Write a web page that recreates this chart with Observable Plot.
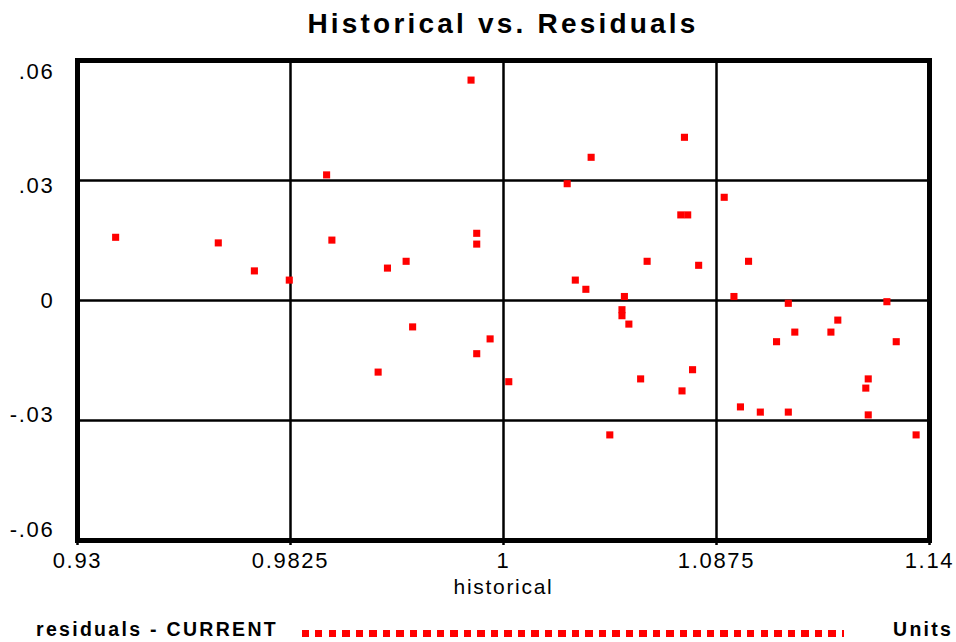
<!DOCTYPE html>
<html>
<head>
<meta charset="utf-8">
<script src="https://cdn.jsdelivr.net/npm/d3@7"></script>
<script src="https://cdn.jsdelivr.net/npm/@observablehq/plot@0.6"></script>
<style>
  html, body { margin: 0; padding: 0; background: #fff; }
  #wrap { position: relative; width: 956px; height: 642px; overflow: hidden; font-family: "Liberation Sans", Arial, sans-serif; }
  #title { position: absolute; left: 77px; width: 852px; top: 10px; text-align: center; font-weight: bold; font-size: 28px; line-height: 28px; letter-spacing: 3.2px; color: #000; }
  #chart { position: absolute; left: 0; top: 0; }
  .leg { position: absolute; top: 620px; font-weight: bold; font-size: 19.5px; line-height: 19.5px; letter-spacing: 2.3px; color: #000; white-space: nowrap; }
  #legline { position: absolute; left: 302px; width: 542px; top: 630px; height: 7px; background: repeating-linear-gradient(to right, #ff0000 0 7px, transparent 7px 13.5px); }
</style>
</head>
<body>
<div id="wrap">
  <div id="chart"></div>
  <div id="title">Historical vs. Residuals</div>
  <div class="leg" style="left:36px">residuals - CURRENT</div>
  <div id="legline"></div>
  <div class="leg" style="left:893px">Units</div>
</div>
<script>
const xTickValues = [0.93, 0.9825, 1.035, 1.0875, 1.14];
const xTickLabels = ["0.93", "0.9825", "1", "1.0875", "1.14"];
const yTickValues = [-0.06, -0.03, 0, 0.03, 0.06];
const yTickLabels = ["-.06", "-.03", "0", ".03", ".06"];
const xLabel = "historical";

const historical = [
  0.9394, 0.9647, 0.9736, 0.9822, 0.9914, 0.9927, 1.0041, 1.0064, 1.0110, 1.0126,
  1.0270, 1.0284, 1.0284, 1.0284, 1.0317, 1.0363, 1.0507, 1.0527, 1.0553, 1.0566,
  1.0612, 1.0642, 1.0642, 1.0648, 1.0659, 1.0688, 1.0704, 1.0796, 1.0787, 1.0804,
  1.0790, 1.0816, 1.0831, 1.0894, 1.0918, 1.0934, 1.0954, 1.0983, 1.1023, 1.1052,
  1.1052, 1.1068, 1.1157, 1.1174, 1.1243, 1.1249, 1.1249, 1.1295, 1.1318, 1.1367
];
const residuals = [
  0.0158, 0.0144, 0.0074, 0.0051, 0.0314, 0.0151, -0.0179, 0.0081, 0.0098, -0.0066,
  0.0551, 0.0168, 0.0141, -0.0133, -0.0096, -0.0203, 0.0292, 0.0051, 0.0028, 0.0358,
  -0.0336, -0.0023, -0.0038, 0.0010, -0.0059, -0.0196, 0.0098, 0.0408, 0.0214, 0.0214,
  -0.0226, -0.0173, 0.0088, 0.0258, 0.0010, -0.0266, 0.0098, -0.0279, -0.0103, -0.0007,
  -0.0279, -0.0079, -0.0079, -0.0049, -0.0219, -0.0196, -0.0286, -0.0003, -0.0103, -0.0336
];

const points = historical.map((h, i) => ({historical: h, residual: residuals[i]}));
const yLabelData = yTickValues.map((v, i) => ({v, label: yTickLabels[i]}));

const chart = Plot.plot({
  width: 956,
  height: 600,
  marginTop: 60,
  marginBottom: 60,
  marginLeft: 77,
  marginRight: 27,
  style: {fontFamily: "'Liberation Sans', Arial, sans-serif", fontSize: "22px", letterSpacing: "1.7px", color: "#000", background: "#fff"},
  x: {domain: [0.93, 1.14], axis: null},
  y: {domain: [-0.06, 0.06], axis: null},
  marks: [
    Plot.ruleX(xTickValues, {stroke: "#000", strokeWidth: 2.5}),
    Plot.ruleY(yTickValues, {stroke: "#000", strokeWidth: 2.5}),
    Plot.axisX(xTickValues, {
      anchor: "bottom",
      tickSize: 5,
      tickPadding: 7,
      strokeWidth: 2.5,
      tickFormat: (d, i) => xTickLabels[i],
      fontSize: 22,
      label: null
    }),
    Plot.text(yLabelData, {
      frameAnchor: "left",
      y: d => d.v * 0.954,
      text: "label",
      textAnchor: "end",
      dx: -23,
      fontSize: 22
    }),
    Plot.text([xLabel], {frameAnchor: "bottom", dy: 53, fontSize: 21, letterSpacing: "0.8px", text: d => d}),
    Plot.dot(points, {x: "historical", y: "residual", symbol: "square", r: 4, fill: "#ff0000", stroke: null}),
    Plot.frame({stroke: "#000", strokeWidth: 5})
  ]
});
document.getElementById("chart").appendChild(chart);
</script>
</body>
</html>
